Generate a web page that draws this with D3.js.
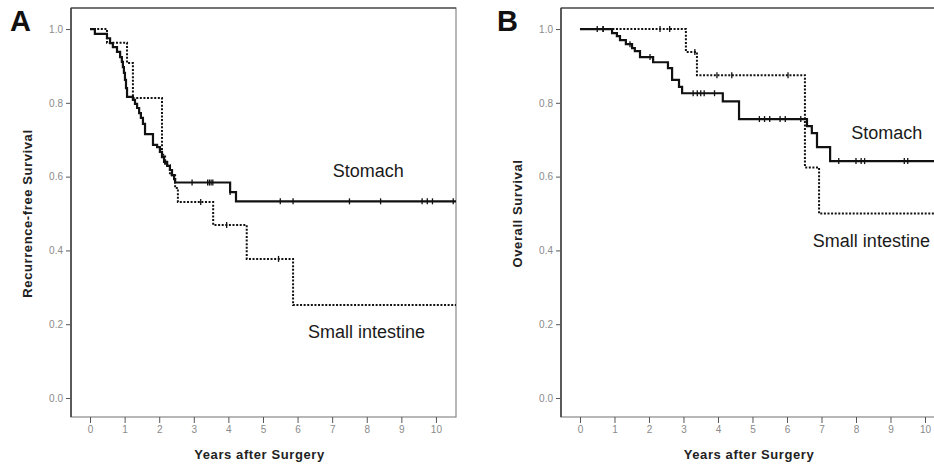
<!DOCTYPE html>
<html>
<head>
<meta charset="utf-8">
<script src="https://cdn.jsdelivr.net/npm/d3@7"></script>
<style>
  body { margin: 0; background: #fff; }
  svg { display: block; font-family: Arial, "Liberation Sans", sans-serif; }
</style>
</head>
<body>
<div id="vis"></div>
<script>
// tick values
const yearTicks = [0, 1, 2, 3, 4, 5, 6, 7, 8, 9, 10];
const survTicks = [0.0, 0.2, 0.4, 0.6, 0.8, 1.0];

// A: recurrence-free survival
const rfsStomachT = [0, 0.14, 0.49, 0.58, 0.66, 0.78, 0.87, 0.92, 0.95, 0.98, 1.01, 1.04, 1.07, 1.24, 1.30, 1.36, 1.42, 1.47, 1.53, 1.59, 1.82, 1.94, 2.02, 2.08, 2.14, 2.23, 2.31, 2.37, 2.43, 2.46, 4.05, 4.22];
const rfsStomachS = [1.0, 0.987, 0.975, 0.962, 0.951, 0.938, 0.924, 0.911, 0.897, 0.881, 0.862, 0.840, 0.816, 0.808, 0.797, 0.786, 0.772, 0.759, 0.743, 0.715, 0.686, 0.680, 0.667, 0.653, 0.640, 0.629, 0.618, 0.604, 0.593, 0.584, 0.558, 0.533];
const rfsStomachCensor = [2.95, 3.4, 3.45, 3.5, 3.55, 4.05, 5.5, 5.87, 7.5, 8.4, 9.6, 9.75, 9.9, 10.5];

const rfsSmallT = [0, 0.49, 1.07, 1.24, 2.08, 2.17, 2.31, 2.46, 2.54, 3.56, 4.53, 5.87];
const rfsSmallS = [1.0, 0.963, 0.908, 0.813, 0.659, 0.631, 0.604, 0.569, 0.531, 0.469, 0.377, 0.252];
const rfsSmallCensor = [3.2, 3.95, 5.45];

// B: overall survival
const osStomachT = [0, 0.93, 1.07, 1.16, 1.33, 1.51, 1.59, 1.74, 2.12, 2.55, 2.67, 2.87, 2.96, 4.14, 4.61, 6.58, 6.72, 6.87, 7.25];
const osStomachS = [1.0, 0.989, 0.981, 0.97, 0.959, 0.948, 0.94, 0.924, 0.91, 0.894, 0.862, 0.843, 0.826, 0.804, 0.756, 0.737, 0.718, 0.68, 0.642];
const osStomachCensor = [0.5, 0.67, 1.45, 2.03, 3.28, 3.4, 3.5, 3.6, 3.9, 5.2, 5.35, 5.5, 5.8, 5.95, 6.4, 7.5, 8.0, 8.15, 8.25, 9.4, 9.5, 10.3];

const osSmallT = [0, 3.07, 3.39, 6.52, 6.93];
const osSmallS = [1.0, 0.938, 0.875, 0.625, 0.5];
const osSmallCensor = [0.67, 2.32, 2.6, 3.33, 3.97, 4.4, 6.03];

const svg = d3.select("#vis")
  .append("svg")
  .attr("width", 934)
  .attr("height", 469);

function drawPanel(p) {
  const x = d3.scaleLinear().domain([-0.55, 10.58]).range([p.left, p.right]);
  const y = d3.scaleLinear().domain([-0.0515, 1.057]).range([417, 8]);
  const g = svg.append("g");

  // frame
  g.append("rect")
    .attr("x", p.left).attr("y", 8)
    .attr("width", p.right - p.left).attr("height", 409)
    .attr("fill", "none")
    .attr("stroke", "#888")
    .attr("stroke-width", 1.2);
  g.append("line")
    .attr("x1", p.left).attr("x2", p.left)
    .attr("y1", 8).attr("y2", 417)
    .attr("stroke", "#333").attr("stroke-width", 1.4);
  g.append("line")
    .attr("x1", p.left).attr("x2", p.right)
    .attr("y1", 8).attr("y2", 8)
    .attr("stroke", "#333").attr("stroke-width", 1.2);

  // axes
  const yAxis = g.append("g")
    .attr("transform", `translate(${p.left},0)`)
    .call(d3.axisLeft(y).tickValues(survTicks).tickFormat(d3.format(".1f")).tickSize(5).tickPadding(3));
  const xAxis = g.append("g")
    .attr("transform", `translate(0,417)`)
    .call(d3.axisBottom(x).tickValues(yearTicks).tickSize(6).tickPadding(3));
  [xAxis, yAxis].forEach(a => {
    a.select(".domain").remove();
    a.selectAll(".tick line").attr("stroke", "#555");
    a.selectAll(".tick text")
      .attr("fill", "#8a8a8a")
      .attr("font-size", "10px")
      .attr("font-family", "Arial, 'Liberation Sans', sans-serif");
  });

  // axis titles
  g.append("text")
    .attr("x", x(4.9))
    .attr("y", 459)
    .attr("text-anchor", "middle")
    .attr("font-size", "13px")
    .attr("font-weight", "bold")
    .attr("letter-spacing", "0.6px")
    .attr("fill", "#222")
    .text("Years after Surgery");
  g.append("text")
    .attr("transform", `translate(${p.left - 39},${y(0.5)}) rotate(-90)`)
    .attr("text-anchor", "middle")
    .attr("font-size", "13px")
    .attr("font-weight", "bold")
    .attr("letter-spacing", "0.6px")
    .attr("fill", "#222")
    .text(p.yTitle);

  // panel letter
  svg.append("text")
    .attr("x", p.letterX)
    .attr("y", 31)
    .attr("font-size", "29px")
    .attr("font-weight", "bold")
    .attr("fill", "#111")
    .text(p.letter);

  const xMax = x.domain()[1];

  p.series.forEach(s => {
    const pts = s.t.map((t, i) => [t, s.s[i]]);
    pts.push([xMax, s.s[s.s.length - 1]]);
    const line = d3.line()
      .x(d => x(d[0]))
      .y(d => y(d[1]))
      .curve(d3.curveStepAfter);
    g.append("path")
      .datum(pts)
      .attr("fill", "none")
      .attr("stroke", "#111")
      .attr("stroke-width", s.dotted ? 2 : 2.2)
      .attr("stroke-dasharray", s.dotted ? "2,1.6" : null)
      .attr("d", line);

    // censor ticks
    g.selectAll(null)
      .data(s.censor)
      .enter()
      .append("line")
      .attr("x1", d => x(d)).attr("x2", d => x(d))
      .attr("y1", d => y(s.s[d3.bisectRight(s.t, d) - 1]) - 3)
      .attr("y2", d => y(s.s[d3.bisectRight(s.t, d) - 1]) + 3)
      .attr("stroke", "#111")
      .attr("stroke-width", 1.3);
  });

  p.labels.forEach(l => {
    g.append("text")
      .attr("x", x(l.t))
      .attr("y", y(l.s))
      .attr("font-size", "18px")
      .attr("fill", "#1a1a1a")
      .text(l.text);
  });
}

drawPanel({
  left: 71, right: 456, letter: "A", letterX: 10,
  yTitle: "Recurrence-free Survival",
  series: [
    { t: rfsStomachT, s: rfsStomachS, censor: rfsStomachCensor, dotted: false },
    { t: rfsSmallT, s: rfsSmallS, censor: rfsSmallCensor, dotted: true }
  ],
  labels: [
    { text: "Stomach", t: 7.02, s: 0.599 },
    { text: "Small intestine", t: 6.3, s: 0.163 }
  ]
});

drawPanel({
  left: 561, right: 945, letter: "B", letterX: 497,
  yTitle: "Overall Survival",
  series: [
    { t: osStomachT, s: osStomachS, censor: osStomachCensor, dotted: false },
    { t: osSmallT, s: osSmallS, censor: osSmallCensor, dotted: true }
  ],
  labels: [
    { text: "Stomach", t: 7.86, s: 0.702 },
    { text: "Small intestine", t: 6.75, s: 0.409 }
  ]
});
</script>
</body>
</html>
